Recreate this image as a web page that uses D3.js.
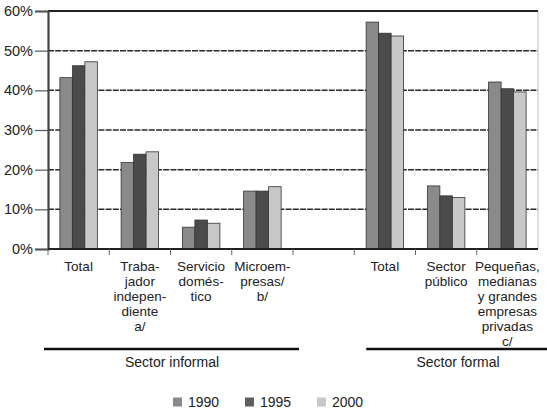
<!DOCTYPE html>
<html>
<head>
<meta charset="utf-8">
<script src="https://cdn.jsdelivr.net/npm/d3@7"></script>
<style>
  body { margin: 0; background: #fff; }
  svg { display: block; font-family: "Liberation Sans", "Open Sans", sans-serif; }
</style>
</head>
<body>
<svg id="chart"></svg>
<script>
// slot keys, one per band on the x axis (slot 5 is the gap between sectors)
const categories = ["infTotal", "trabajador", "servicio", "micro", "gap", "forTotal", "publico", "pequenas"];
const categoryLabels = [
    ["Total"],
    ["Traba-", "jador", "indepen-", "diente", "a/"],
    ["Servicio", "domés-", "tico"],
    ["Microem-", "presas/", "b/"],
    [],
    ["Total"],
    ["Sector", "público"],
    ["Pequeñas,", "medianas", "y grandes", "empresas", "privadas", "c/"]
];
const years = ["1990", "1995", "2000"];
const values1990 = [43.2, 21.8, 5.5, 14.6, null, 57.2, 15.9, 42.1];
const values1995 = [46.2, 23.9, 7.3, 14.6, null, 54.4, 13.4, 40.4];
const values2000 = [47.2, 24.5, 6.5, 15.7, null, 53.7, 13.0, 39.6];
const yTicks = [0, 10, 20, 30, 40, 50, 60];
const groups = ["Sector informal", "Sector formal"];

const width = 547;
const height = 411;
const margin = { top: 11, right: 9, bottom: 162, left: 48 };
const colors = { "1990": "#8a8a8a", "1995": "#4b4b4b", "2000": "#c8c8c8" };

const series = { "1990": values1990, "1995": values1995, "2000": values2000 };

const svg = d3.select("#chart")
    .attr("width", width)
    .attr("height", height);

const x0 = d3.scaleBand()
    .domain(categories)
    .range([margin.left, width - margin.right])
    .padding(0);

const x1 = d3.scaleBand()
    .domain(years)
    .range([0, x0.bandwidth()])
    .paddingInner(0)
    .paddingOuter(0.95);

const y = d3.scaleLinear()
    .domain([0, 60])
    .range([height - margin.bottom, margin.top]);

const textColor = "#222";

// gridlines (dashed)
svg.append("g")
    .selectAll("line")
    .data(yTicks.filter(d => d > 0 && d < 60))
    .join("line")
    .attr("x1", margin.left)
    .attr("x2", width - margin.right)
    .attr("y1", d => y(d))
    .attr("y2", d => y(d))
    .attr("stroke", "#2a2a2a")
    .attr("stroke-width", 1.5)
    .attr("stroke-dasharray", "6,1.2");

// right frame line, light
svg.append("line")
    .attr("x1", width - margin.right).attr("x2", width - margin.right)
    .attr("y1", margin.top).attr("y2", y(0))
    .attr("stroke", "#bbb")
    .attr("stroke-width", 1);

// top frame line at 60%
svg.append("line")
    .attr("x1", margin.left).attr("x2", width - margin.right)
    .attr("y1", y(60)).attr("y2", y(60))
    .attr("stroke", "#222")
    .attr("stroke-width", 2.2);

// bars
const rows = categories.map((c, i) => ({ key: c, values: years.map(yr => ({ year: yr, value: series[yr][i] })) }));

svg.append("g")
    .selectAll("g")
    .data(rows)
    .join("g")
    .attr("transform", d => `translate(${x0(d.key)},0)`)
    .selectAll("rect")
    .data(d => d.values.filter(v => v.value != null))
    .join("rect")
    .attr("x", d => x1(d.year))
    .attr("width", x1.bandwidth())
    .attr("y", d => y(d.value))
    .attr("height", d => y(0) - y(d.value))
    .attr("fill", d => colors[d.year])
    .attr("stroke", "#333")
    .attr("stroke-width", 0.8);

// y axis
const yAxis = svg.append("g")
    .attr("transform", `translate(${margin.left},0)`)
    .call(d3.axisLeft(y).tickValues(yTicks).tickFormat(d => d + "%").tickSize(13).tickPadding(2));
yAxis.select(".domain").attr("stroke", "#444").attr("stroke-width", 2.2);
yAxis.selectAll(".tick line").attr("stroke", "#555").attr("stroke-width", 1.2);
yAxis.selectAll(".tick text")
    .attr("fill", textColor)
    .style("font-size", "14.5px");

// x axis: ticks at slot boundaries
const xAxis = svg.append("g")
    .attr("transform", `translate(0,${y(0)})`);
xAxis.append("line")
    .attr("x1", margin.left).attr("x2", width - margin.right)
    .attr("stroke", "#222")
    .attr("stroke-width", 2.2);
xAxis.selectAll(".xtick")
    .data(categories)
    .join("line")
    .attr("class", "xtick")
    .attr("x1", d => x0(d)).attr("x2", d => x0(d))
    .attr("y1", 0).attr("y2", 6)
    .attr("stroke", "#666")
    .attr("stroke-width", 1);

// category labels (multi-line)
const lineHeight = 15;
svg.append("g")
    .selectAll("text")
    .data(categories.map((c, i) => ({ key: c, lines: categoryLabels[i] })))
    .join("text")
    .attr("text-anchor", "middle")
    .attr("fill", textColor)
    .style("font-size", "13.5px")
    .each(function (d) {
        const t = d3.select(this);
        d.lines.forEach((line, j) => {
            t.append("tspan")
                .attr("x", x0(d.key) + x0.bandwidth() / 2)
                .attr("y", y(0) + 22 + j * lineHeight)
                .text(line);
        });
    });

// sector brackets
const bracketY = 349;
const groupG = svg.append("g");
groupG.append("line")
    .attr("x1", 44).attr("x2", x0("gap") + 6)
    .attr("y1", bracketY).attr("y2", bracketY)
    .attr("stroke", "#111").attr("stroke-width", 2.5);
groupG.append("line")
    .attr("x1", x0("forTotal") + 12).attr("x2", width)
    .attr("y1", bracketY).attr("y2", bracketY)
    .attr("stroke", "#111").attr("stroke-width", 2.5);
groupG.selectAll("text")
    .data(groups)
    .join("text")
    .attr("x", (d, i) => i === 0 ? 172 : 458)
    .attr("y", bracketY + 18)
    .attr("text-anchor", "middle")
    .attr("fill", textColor)
    .style("font-size", "14px")
    .text(d => d);

// legend
const legendX = [173, 245, 317];
const legend = svg.append("g")
    .selectAll("g")
    .data(years)
    .join("g")
    .attr("transform", (d, i) => `translate(${legendX[i]},${402})`);
legend.append("rect")
    .attr("x", 0).attr("y", -4.5)
    .attr("width", 9).attr("height", 9)
    .attr("fill", d => d === "1995" ? "#5e5e5e" : colors[d]);
legend.append("text")
    .attr("x", 15)
    .attr("y", 5)
    .attr("fill", textColor)
    .style("font-size", "14px")
    .text(d => d);
</script>
</body>
</html>
